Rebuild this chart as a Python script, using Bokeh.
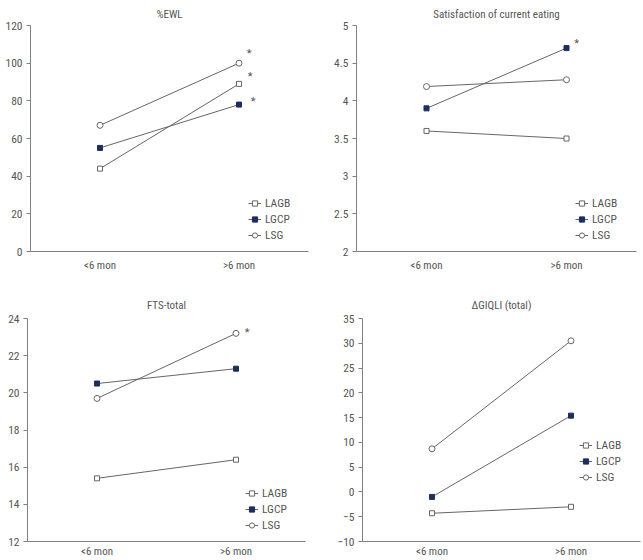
from bokeh.plotting import figure
from bokeh.layouts import column, row
from bokeh.models import Legend, LegendItem, ColumnDataSource, FixedTicker
from bokeh.core.properties import value
from bokeh.embed import file_html
from bokeh.resources import INLINE

# Follow-up periods
periods = ["<6 mon", ">6 mon"]
groups = ["LAGB", "LGCP", "LSG"]

# %EWL
ewl_lagb = [44, 89]
ewl_lgcp = [55, 78]
ewl_lsg = [67, 100]

# Satisfaction of current eating
sat_lagb = [3.6, 3.5]
sat_lgcp = [3.9, 4.7]
sat_lsg = [4.19, 4.28]

# FTS-total
fts_lagb = [15.4, 16.4]
fts_lgcp = [20.5, 21.3]
fts_lsg = [19.7, 23.2]

# ΔGIQLI (total)
giq_lagb = [-4.3, -3.0]
giq_lgcp = [-1.0, 15.4]
giq_lsg = [8.7, 30.5]

FONT = "Liberation Sans Narrow, Roboto Condensed, Arial Narrow, Roboto, sans-serif"
TXT = "#555555"
LINE = "#666666"
NAVY = "#1c2d5e"
AXIS = "#808080"

STYLE = {
    "LAGB": dict(marker="square", fill_color="white", line_color=LINE, size=5),
    "LGCP": dict(marker="square", fill_color=NAVY, line_color=NAVY, size=5),
    "LSG": dict(marker="circle", fill_color="white", line_color=LINE, size=6),
}


def panel(title, series, stars, y0, y1, step, w, h, left, right, top, bottom,
          legend_xy, label_standoff, title_standoff):
    p = figure(x_range=periods, y_range=(y0, y1), width=w, height=h,
               output_backend="svg", toolbar_location=None,
               min_border_left=left, min_border_right=right,
               min_border_top=top, min_border_bottom=bottom)
    p.title.text = title
    p.title.align = "center"
    p.title.standoff = title_standoff
    p.title.text_font = FONT
    p.title.text_font_size = "11px"
    p.title.text_font_style = "normal"
    p.title.text_color = TXT
    p.outline_line_color = None
    p.grid.visible = False
    p.background_fill_color = "white"
    p.border_fill_color = "white"

    n = int(round((y1 - y0) / step))
    p.yaxis.ticker = FixedTicker(ticks=[y0 + i * step for i in range(n + 1)])
    p.yaxis.major_tick_out = 4
    p.yaxis.major_tick_in = 0
    p.yaxis.minor_tick_line_color = None
    p.yaxis.axis_line_color = AXIS
    p.yaxis.major_tick_line_color = AXIS
    p.yaxis.major_label_text_font = FONT
    p.yaxis.major_label_text_font_size = "11.5px"
    p.yaxis.major_label_text_color = TXT
    p.yaxis.major_label_standoff = 4

    p.xaxis.major_tick_line_color = None
    p.xaxis.major_tick_out = 0
    p.xaxis.major_tick_in = 0
    p.xaxis.minor_tick_line_color = None
    p.xaxis.axis_line_color = AXIS
    p.xaxis.major_label_text_font = FONT
    p.xaxis.major_label_text_font_size = "11px"
    p.xaxis.major_label_text_color = TXT
    p.xaxis.major_label_standoff = label_standoff

    items = []
    for g in groups:
        vals = series[g]
        src = ColumnDataSource(dict(x=periods, y=vals))
        ln = p.line("x", "y", source=src, line_color=LINE, line_width=1)
        st = STYLE[g]
        sc = p.scatter("x", "y", source=src, marker=st["marker"], size=st["size"],
                       fill_color=st["fill_color"], line_color=st["line_color"],
                       line_width=1)
        items.append(LegendItem(label=g, renderers=[ln, sc]))

    # significance marks, placed beside the >6 mon points
    for g, dx, dy in stars:
        p.text(x=[periods[1]], y=[series[g][1]], text=["*"], x_offset=dx,
               y_offset=dy, text_font=value(FONT), text_font_size="11px",
               text_color=TXT, text_align="center", text_baseline="middle")

    leg = Legend(items=items, location=legend_xy)
    leg.border_line_color = None
    leg.background_fill_alpha = 0
    leg.padding = 0
    leg.margin = 0
    leg.spacing = 2
    leg.glyph_width = 13
    leg.glyph_height = 14
    leg.label_height = 14
    leg.label_standoff = 4
    leg.label_text_font = FONT
    leg.label_text_font_size = "11.5px"
    leg.label_text_color = TXT
    p.add_layout(leg, "center")
    return p


p1 = panel("%EWL", {"LAGB": ewl_lagb, "LGCP": ewl_lgcp, "LSG": ewl_lsg},
           [("LSG", 10, -10), ("LAGB", 11, -7.5), ("LGCP", 14, -3)],
           0, 120, 20, 320, 280, 30, 12, 25, 29, (218, 9), 7, 9)
p2 = panel("Satisfaction of current eating",
           {"LAGB": sat_lagb, "LGCP": sat_lgcp, "LSG": sat_lsg},
           [("LGCP", 10, -5)],
           2, 5, 0.5, 323, 280, 36, 7, 25, 29, (219, 9), 7, 9)
p3 = panel("FTS-total", {"LAGB": fts_lagb, "LGCP": fts_lgcp, "LSG": fts_lsg},
           [("LSG", 11, -1)],
           12, 24, 2, 320, 280, 27, 15, 38, 16, (218, 9), 3, 14)
p4 = panel("\u0394GIQLI (total)",
           {"LAGB": giq_lagb, "LGCP": giq_lgcp, "LSG": giq_lsg},
           [],
           -10, 35, 5, 323, 280, 42, 3, 38, 16, (217, 57), 3, 14)

layout = column(row(p1, p2), row(p3, p4))

open("out.html", "w").write(file_html(layout, INLINE))
